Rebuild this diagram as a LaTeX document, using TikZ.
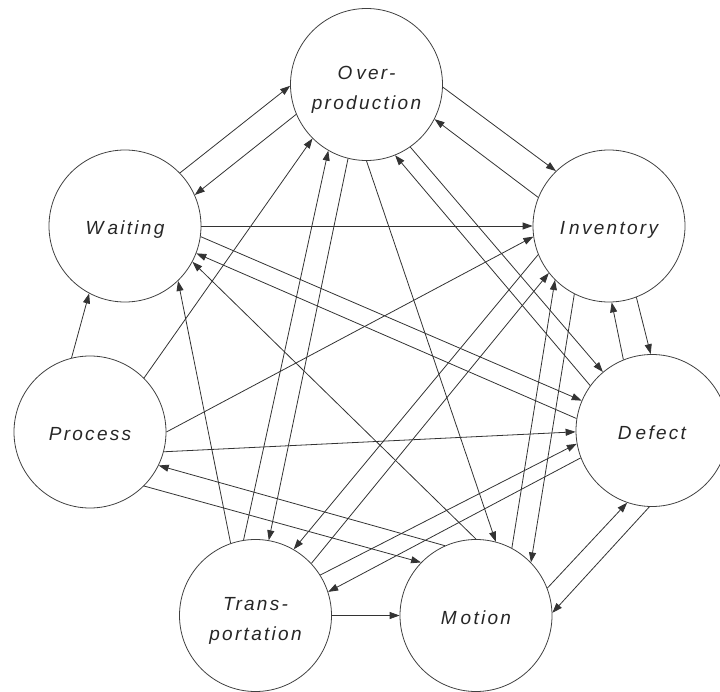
\documentclass[tikz,border=0pt]{standalone}
\usepackage{fontspec}
\newfontfamily\labelfont[LetterSpace=12]{Liberation Sans}
\usetikzlibrary{arrows.meta}
% invisible struts that set the first line's height and depth
\newcommand\firstlinestrut{\rule[-4pt]{0pt}{25pt}}
\newcommand\tallstrut{\rule{0pt}{23pt}}
\begin{document}
\begin{tikzpicture}[x=1pt,y=-1pt,
  waste/.style={circle, draw=black!75, line width=0.8pt, minimum size=152pt,
    inner sep=0pt, align=center, text=black!85,
    font=\labelfont\itshape\fontsize{19}{30}\selectfont},
  oneline/.style={execute at begin node=\firstlinestrut},
  link/.style={draw=black!80, line width=0.8pt,
    -{Triangle[length=10pt,width=7pt]}}]
\useasboundingbox (0,0) rectangle (720,692);

% the seven wastes
\node[waste] (O) at (366.5,84.5) {\tallstrut O\kern4pt ver-\\production};
\node[waste,oneline] (W) at (125,226) {W\kern4pt aiting};
\node[waste,oneline] (I) at (609,226) {I\kern4pt nventory};
\node[waste,oneline] (P) at (90,432) {Process};
\node[waste,oneline] (D) at (652,430.5) {D\kern4pt efect};
\node[waste] (T) at (255.5,615.5) {\tallstrut Trans-\\portation};
\node[waste,oneline] (M) at (476,615.5) {M\kern4pt otion};

% influences between wastes
\draw[link] (W.44.5) -- (O.181.6);
\draw[link] (O.203.8) -- (W.24.6);
\draw[link] (P.45.5) -- (O.225.4);
\draw[link] (T.99.5) -- (O.240);
\draw[link] (O.256.4) -- (T.80.6);
\draw[link] (O.270.2) -- (M.75.5);
\draw[link] (D.144.5) -- (O.292.3);
\draw[link] (O.305.3) -- (D.130.5);
\draw[link] (O.358.4) -- (I.134.8);
\draw[link] (I.158.4) -- (O.333.7);
\draw[link] (W.0) -- (I.180);
\draw[link] (W.352.6) -- (D.157.5);
\draw[link] (D.171.2) -- (W.339.6);
\draw[link] (M.90.8) -- (W.332);
\draw[link] (T.109.9) -- (W.314.6);
\draw[link] (P.104.4) -- (W.242.6);
\draw[link] (P.0.2) -- (I.188.9);
\draw[link] (P.345.8) -- (D.181.3);
\draw[link] (M.114.3) -- (P.334.3);
\draw[link] (P.315.2) -- (M.136.5);
\draw[link] (T.32.5) -- (D.190.4);
\draw[link] (D.201.8) -- (T.18.5);
\draw[link] (I.202.5) -- (T.60.1);
\draw[link] (T.43.8) -- (I.218.4);
\draw[link] (M.62.6) -- (I.225.5);
\draw[link] (I.243.8) -- (M.44.9);
\draw[link] (D.112.1) -- (I.272);
\draw[link] (I.291.6) -- (D.91.5);
\draw[link] (M.21.7) -- (D.251.2);
\draw[link] (D.268.5) -- (M.2.8);
\draw[link] (T.0) -- (M.180);
\end{tikzpicture}
\end{document}
